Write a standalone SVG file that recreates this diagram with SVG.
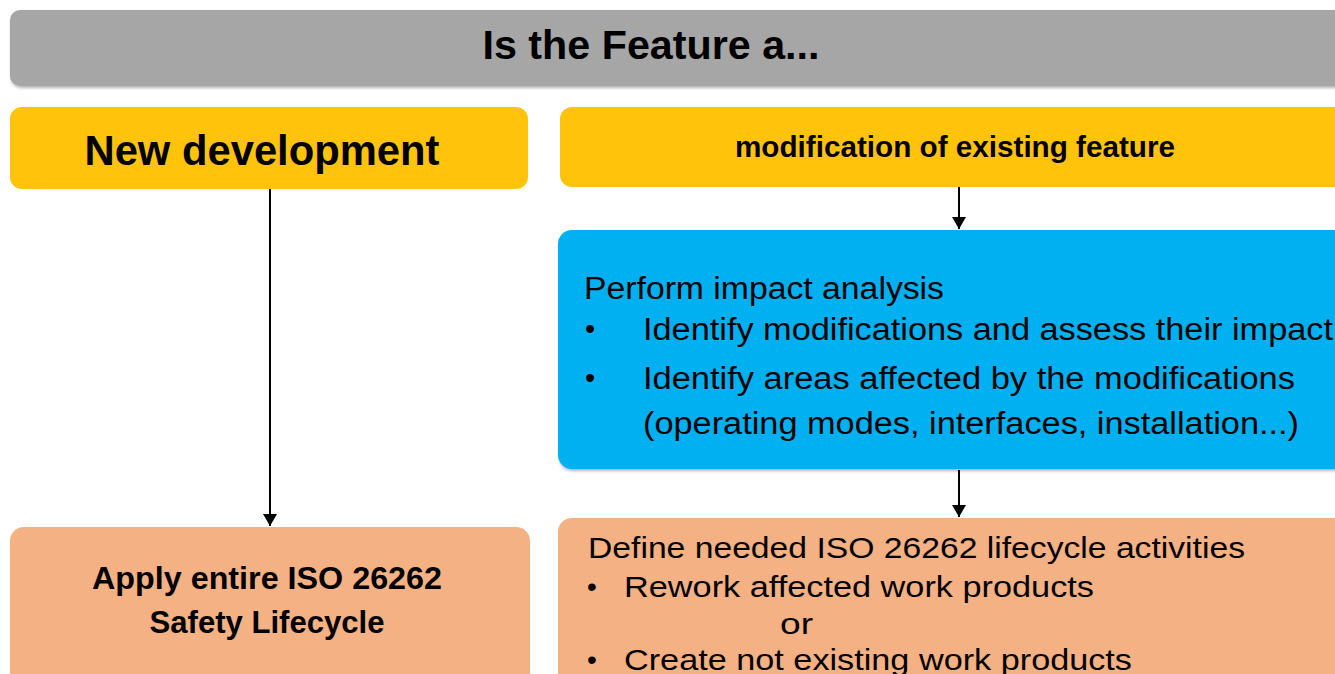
<svg xmlns="http://www.w3.org/2000/svg" width="1335" height="674" viewBox="0 0 1335 674">
  <defs>
    <marker id="ah" viewBox="0 0 12 14" refX="12" refY="7" markerWidth="12" markerHeight="14" markerUnits="userSpaceOnUse" orient="auto">
      <path d="M0,0 L12,7 L0,14 Z" fill="#000"/>
    </marker>
    <filter id="sh" x="-5%" y="-5%" width="110%" height="115%">
      <feDropShadow dx="1" dy="2" stdDeviation="1.5" flood-color="#000" flood-opacity="0.3"/>
    </filter>
  </defs>
  <style>
    text { font-family: "Liberation Sans", Arial, sans-serif; fill: #000; }
    .b { font-weight: bold; }
    .conn { stroke: #000; stroke-width: 2; fill: none; marker-end: url(#ah); }
  </style>
  <rect width="1335" height="674" fill="#fff"/>

  <g id="header">
    <rect x="10" y="10" width="1345" height="76" rx="10" fill="#A6A6A6" filter="url(#sh)"/>
    <text class="b" x="651" y="59" font-size="40" text-anchor="middle" textLength="337" lengthAdjust="spacingAndGlyphs">Is the Feature a...</text>
  </g>

  <g id="new-development">
    <rect x="10" y="107" width="518" height="82" rx="12" fill="#FFC30B"/>
    <text class="b" x="262" y="165" font-size="43" text-anchor="middle" textLength="355" lengthAdjust="spacingAndGlyphs">New development</text>
  </g>

  <g id="modification">
    <rect x="560" y="107" width="800" height="80" rx="12" fill="#FFC30B"/>
    <text class="b" x="955" y="157" font-size="29" text-anchor="middle" textLength="440" lengthAdjust="spacingAndGlyphs">modification of existing feature</text>
  </g>

  <g id="impact-analysis">
    <rect x="558" y="230" width="800" height="239" rx="14" fill="#00B0F0" filter="url(#sh)"/>
    <text x="584" y="299" font-size="31" textLength="360" lengthAdjust="spacingAndGlyphs">Perform impact analysis</text>
    <text x="585" y="339" font-size="29">•</text>
    <text x="643" y="340" font-size="31" textLength="690" lengthAdjust="spacingAndGlyphs">Identify modifications and assess their impact</text>
    <text x="585" y="388" font-size="29">•</text>
    <text x="643" y="389" font-size="31" textLength="652" lengthAdjust="spacingAndGlyphs">Identify areas affected by the modifications</text>
    <text x="643" y="434" font-size="31" textLength="656" lengthAdjust="spacingAndGlyphs">(operating modes, interfaces, installation...)</text>
  </g>

  <g id="apply-entire">
    <rect x="10" y="527" width="520" height="170" rx="14" fill="#F4B183"/>
    <text class="b" x="267" y="589" font-size="32" text-anchor="middle" textLength="350" lengthAdjust="spacingAndGlyphs">Apply entire ISO 26262</text>
    <text class="b" x="267" y="633" font-size="32" text-anchor="middle" textLength="235" lengthAdjust="spacingAndGlyphs">Safety Lifecycle</text>
  </g>

  <g id="define-activities">
    <rect x="558" y="518" width="800" height="180" rx="14" fill="#F4B183"/>
    <text x="588" y="558" font-size="30" textLength="657" lengthAdjust="spacingAndGlyphs">Define needed ISO 26262 lifecycle activities</text>
    <text x="587" y="596" font-size="28">•</text>
    <text x="624" y="597" font-size="30" textLength="470" lengthAdjust="spacingAndGlyphs">Rework affected work products</text>
    <text x="780" y="634" font-size="30" textLength="33" lengthAdjust="spacingAndGlyphs">or</text>
    <text x="587" y="669" font-size="28">•</text>
    <text x="624" y="670" font-size="30" textLength="508" lengthAdjust="spacingAndGlyphs">Create not existing work products</text>
  </g>

  <g id="connectors">
    <line class="conn" x1="270" y1="189" x2="270" y2="526"/>
    <line class="conn" x1="959" y1="187" x2="959" y2="229"/>
    <line class="conn" x1="959" y1="470" x2="959" y2="517"/>
  </g>
</svg>
